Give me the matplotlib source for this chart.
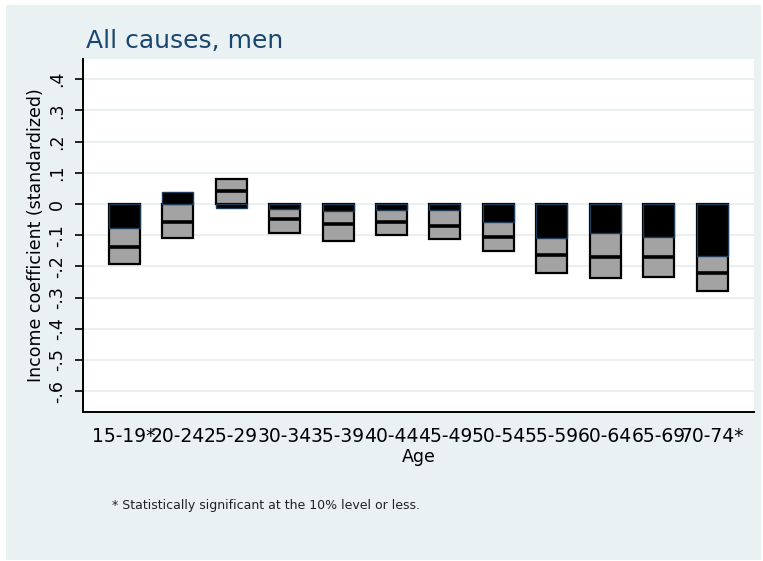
import matplotlib
matplotlib.use("Agg")
import matplotlib.pyplot as plt
from matplotlib.patches import Rectangle

plt.rcParams["font.family"] = ["DejaVu Sans"]

# Age groups and income coefficients (standardized) with 95% bounds
age_groups = ["15-19*", "20-24", "25-29", "30-34", "35-39", "40-44",
              "45-49", "50-54", "55-59", "60-64", "65-69", "70-74*"]
estimate = [-0.139, -0.057, 0.042, -0.049, -0.065, -0.057,
            -0.070, -0.107, -0.165, -0.171, -0.171, -0.222]
upper = [-0.076, 0.039, 0.079, -0.016, -0.021, -0.019,
         -0.019, -0.057, -0.108, -0.094, -0.107, -0.166]
lower = [-0.192, -0.110, -0.014, -0.092, -0.118, -0.099,
         -0.112, -0.150, -0.220, -0.238, -0.233, -0.278]
y_ticks = [-0.6, -0.5, -0.4, -0.3, -0.2, -0.1, 0.0, 0.1, 0.2, 0.3, 0.4]
y_tick_labels = ["-.6", "-.5", "-.4", "-.3", "-.2", "-.1", "0", ".1", ".2", ".3", ".4"]

W, H = 763, 561
fig = plt.figure(figsize=(W / 100, H / 100), dpi=100)
fig.patch.set_facecolor("white")
# bluish-gray graph region
fig.patches.append(Rectangle((6 / W, 1 / H), (761 - 6) / W, (556 - 1) / H,
                             transform=fig.transFigure, facecolor="#e9f1f3",
                             edgecolor="none", zorder=-10))

ax = fig.add_axes([83 / W, (H - 412) / H, 671 / W, 353 / H])
ax.set_facecolor("white")

x = list(range(len(age_groups)))
bw = 0.58
far = [lo if abs(lo) >= abs(up) else up for lo, up in zip(lower, upper)]
near = [up if abs(lo) >= abs(up) else lo for lo, up in zip(lower, upper)]

ax.bar(x, far, width=bw, color="#a3a3a3", edgecolor="black", linewidth=1.6, zorder=3)
ax.bar(x, near, width=bw, color="black", edgecolor="#1f3b5a", linewidth=1.0, zorder=4)
ax.hlines(estimate, [i - bw / 2 for i in x], [i + bw / 2 for i in x],
          color="black", linewidth=2.6, zorder=5)

ax.set_xlim(-0.77, 11.78)
ax.set_ylim(-0.667, 0.465)
ax.set_yticks(y_ticks)
ax.set_yticklabels(y_tick_labels, rotation=90, va="center", fontsize=12.5)
ax.set_xticks(x)
ax.set_xticklabels(age_groups, fontsize=13.5)
ax.tick_params(axis="x", length=0, pad=11)
ax.tick_params(axis="y", length=6, width=1.2, pad=6, direction="out")
ax.grid(axis="y", color="#e6edf0", linewidth=1.2, zorder=0)
ax.set_axisbelow(True)

for side in ("top", "right"):
    ax.spines[side].set_visible(False)
for side in ("left", "bottom"):
    ax.spines[side].set_linewidth(1.4)
    ax.spines[side].set_color("black")

ax.set_ylabel("Income coefficient (standardized)", fontsize=12.5)
ax.yaxis.set_label_coords((45 - 83) / 671, 0.5)

fig.text(418.5 / W, 1 - 457 / H, "Age", ha="center", va="center", fontsize=12.5)
fig.text(86 / W, 1 - 48 / H, "All causes, men", ha="left", va="baseline",
         fontsize=18, color="#1a476f")
fig.text(112 / W, 1 - 505 / H,
         "* Statistically significant at the 10% level or less.",
         ha="left", va="center", fontsize=9, color="#222222")

fig.savefig("out.png", dpi=100, facecolor=fig.get_facecolor())
